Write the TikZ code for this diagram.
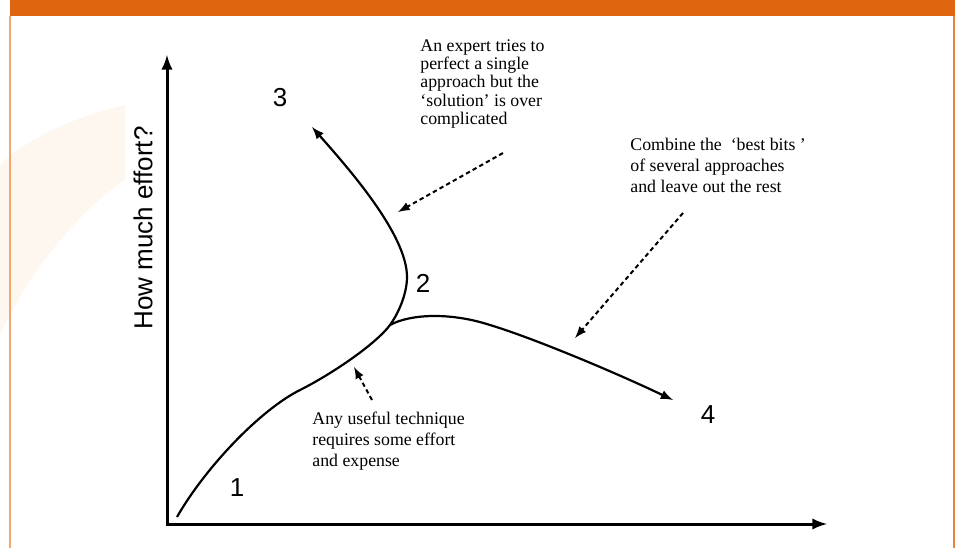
\documentclass[tikz,border=0pt]{standalone}
\usepackage{fontspec}
\setmainfont{Liberation Serif}
\setsansfont{Liberation Sans}
\usetikzlibrary{positioning}
\definecolor{barorange}{RGB}{224,101,15}
\definecolor{edgeorange}{RGB}{243,166,112}
\definecolor{wmark}{RGB}{254,247,240}

\begin{document}
\begin{tikzpicture}[x=0.5pt,y=-0.5pt,>=latex,
    axis/.style={line width=1.5pt},
    curve/.style={line width=1.1pt},
    hint/.style={line width=1pt, dash pattern=on 2.2pt off 1.6pt},
    note/.style={font=\fontsize{8.9}{10.4}\selectfont, align=left, inner sep=0pt, anchor=north west},
    numlabel/.style={font=\sffamily\fontsize{13}{15}\selectfont, inner sep=0pt}]
   \useasboundingbox (0,0) rectangle (960,548);
   % frame
   \fill[wmark] (125,105) .. controls (70,118) and (25,140) .. (0,165)
        -- (0,335) .. controls (30,270) and (80,210) .. (125,180) -- cycle;
   \fill[barorange] (10,0) rectangle (955,16);
   \draw[edgeorange, line width=1pt] (10,16) -- (10,548);
   \draw[barorange!80, line width=1pt] (954,16) -- (954,548);

   % axes
   \coordinate (o) at (167,524);
   \coordinate (y_top) at (167,55);
   \coordinate (x_end) at (827,524);
   \draw[axis,<->] (y_top) |- (x_end);
   \node[numlabel, rotate=90] (effort) at (143,228) {How much effort?};

   % curve
   \coordinate (c_0) at (177,517);
   \coordinate (c_1) at (300,390);
   \coordinate (c_j) at (390,325);
   \coordinate (c_2) at (407,277);
   \coordinate (c_3) at (312,127);
   \coordinate (c_5) at (490,325);
   \coordinate (c_4) at (673,400);
   \draw[curve,->] (c_0) .. controls (205,468) and (260,410) .. (c_1)
        .. controls (330,375) and (375,345) .. (c_j)
        .. controls (400,311) and (407,292) .. (c_2)
        .. controls (407,235) and (350,170) .. (c_3);
   \draw[curve,->] (c_j) .. controls (410,314) and (450,312) .. (c_5)
        .. controls (530,337) and (610,370) .. (c_4);

   \node[numlabel] (n_1) at (237,488) {1};
   \node[numlabel] (n_2) at (423,283) {2};
   \node[numlabel] (n_3) at (280,98) {3};
   \node[numlabel] (n_4) at (708,415) {4};

   % notes
   \node[note, font=\fontsize{8.9}{9.2}\selectfont] (expert) at (420,39)
        {An expert tries to\\perfect a single\\approach but the\\‘solution’ is over\\complicated};
   \node[note] (combine) at (630,138)
        {Combine the \ ‘best bits ’\\of several approaches\\and leave out the rest};
   \node[note] (useful) at (312,412)
        {Any useful technique\\requires some effort\\and expense};

   \coordinate (h_1) at (503,153);
   \coordinate (h_1e) at (398,212);
   \coordinate (h_2) at (683,213);
   \coordinate (h_2e) at (575,338);
   \coordinate (h_3) at (372,400);
   \coordinate (h_3e) at (354,367);
   \path[->, hint]
   (h_1) edge (h_1e)
   (h_2) edge (h_2e)
   (h_3) edge (h_3e);

\end{tikzpicture}
\end{document}
